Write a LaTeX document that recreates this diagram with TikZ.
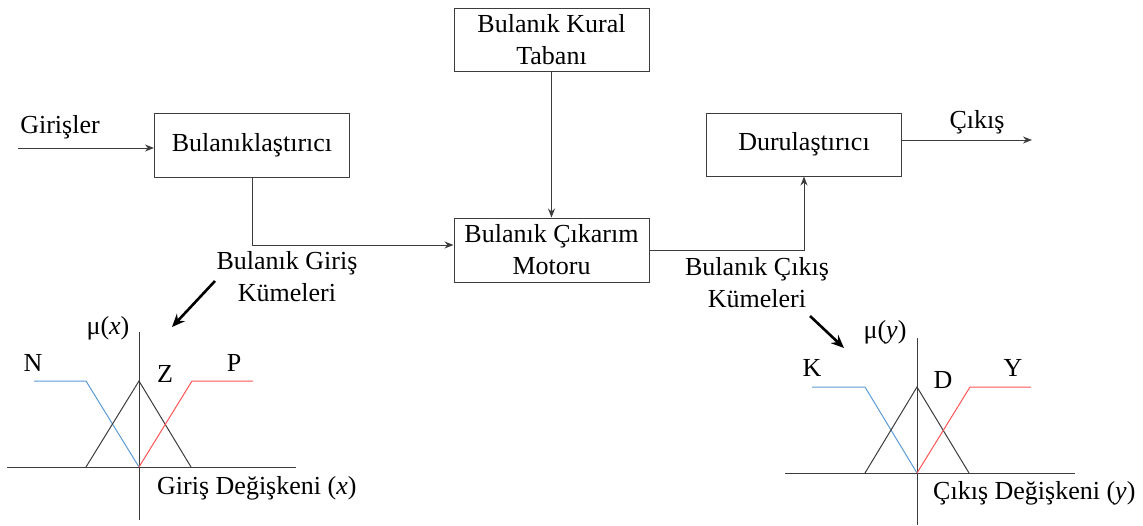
\documentclass[tikz,border=0pt]{standalone}
\usepackage{fontspec}
\setmainfont{Liberation Serif}
\usetikzlibrary{arrows.meta,calc}
\definecolor{ln}{RGB}{60,60,60}
\definecolor{mfblue}{RGB}{91,155,213}
\definecolor{mfred}{RGB}{255,85,85}
\begin{document}
\begin{tikzpicture}[x=1pt,y=-1pt,
  every node/.style={font=\rmfamily\fontsize{26}{32}\selectfont, inner sep=0pt},
  blockbox/.style={draw=ln, line width=1pt, minimum width=195pt, minimum height=64pt, align=center},
  conn/.style={draw=ln, line width=1pt, -{Stealth[length=9pt,width=7pt]}},
  bigarrow/.style={draw=black, line width=2.6pt, -{Stealth[length=13pt,width=11pt]}},
  axis/.style={draw=ln, line width=0.9pt},
  mf/.style={line width=1pt}]
\useasboundingbox (0,0) rectangle (1143,525);

% blocks
\node[blockbox] (fuz) at (252,145) {Bulanıklaştırıcı};
\node[blockbox, minimum height=63pt] (kural) at (551.5,39.5) {Bulanık Kural\\Tabanı};
\node[blockbox] (motor) at (551.5,250) {Bulanık Çıkarım\\Motoru};
\node[blockbox, minimum height=63pt] (durul) at (804,144.5) {Durulaştırıcı};

% labels
\node (girisler) at (60,127) {Girişler};
\node (cikis) at (977,122) {Çıkış};
\node[align=center] (bgk) at (287,277) {Bulanık Giriş\\Kümeleri};
\node[align=center] (bck) at (757,283) {Bulanık Çıkış\\Kümeleri};

% connectors
\coordinate (gin) at (18,148);
\coordinate (cout) at (1032,140);
\draw[conn] (gin) -- (gin -| fuz.west);
\draw[conn] (kural.south) -- (motor.north);
\draw[conn] (fuz.south) |- ($(motor.west)+(0,-5)$);
\draw[conn] (motor.east) -| (durul.south);
\draw[conn] (durul.east |- cout) -- (cout);

% big arrows
\coordinate (la1) at (215,281);
\coordinate (la2) at (172,327);
\coordinate (ra1) at (810,316);
\coordinate (ra2) at (844,348);
\draw[bigarrow] (la1) -- (la2);
\draw[bigarrow] (ra1) -- (ra2);

% left graph
\draw[axis] (7,467) -- (296,467);
\draw[axis] (139,332) -- (139,520);
\draw[mf, mfblue] (34,381) -- (86,381) -- (139,467);
\draw[mf, ln] (86,467) -- (139,381) -- (191,467);
\draw[mf, mfred] (139,467) -- (192,381) -- (253,381);
\node (mux) at (108,328) {μ(\textit{x})};
\node (lN) at (33,363) {N};
\node (lZ) at (165,374) {Z};
\node (lP) at (234,363) {P};
\node[anchor=west] (gx) at (157,488) {Giriş Değişkeni (\textit{x})};

% right graph
\draw[axis] (785,473) -- (1075,473);
\draw[axis] (917,338) -- (917,525);
\draw[mf, mfblue] (812,387) -- (865,387) -- (917,473);
\draw[mf, ln] (865,473) -- (917,387) -- (969,473);
\draw[mf, mfred] (917,473) -- (970,387) -- (1031,387);
\node (muy) at (885,332) {μ(\textit{y})};
\node (rK) at (812,368) {K};
\node (rD) at (943,380) {D};
\node (rY) at (1013,368) {Y};
\node[anchor=west] (gy) at (933,493) {Çıkış Değişkeni (\textit{y})};
\end{tikzpicture}
\end{document}
